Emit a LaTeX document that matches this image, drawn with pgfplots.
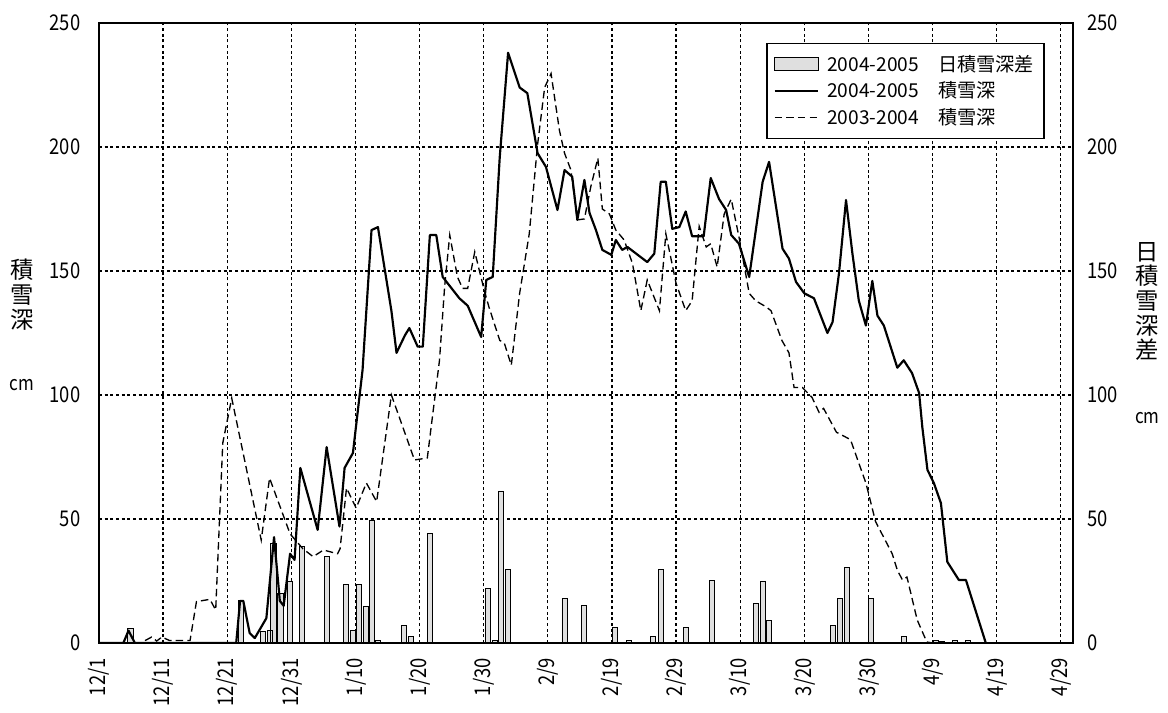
\documentclass[border=0pt]{standalone}
\usepackage{pgfplots}
\pgfplotsset{compat=1.18}
\usepackage{fontspec}
\setmainfont{Noto Sans CJK JP}
\newfontfamily\numfont[FakeStretch=0.85]{Noto Sans CJK JP}
\begin{document}
\begin{tikzpicture}
\useasboundingbox (-59.4pt,-42pt) rectangle (641.4pt,385.8pt);
\pgfplotsset{
  base/.style={
    at={(0pt,0pt)}, anchor=south west,
    scale only axis, width=584.4pt, height=372pt,
    xmin=0, xmax=151.9, ymin=0, ymax=250,
    xtick={0,10,...,150}, ytick={0,50,...,250},
    major tick length=0pt,
    /pgf/number format/assume math mode=true,
    tick label style={font=\numfont\fontsize{13}{14}\selectfont, inner sep=0pt},
    axis line style={line width=0.9pt},
  }
}
% bars on the right axis
\begin{axis}[base,
  yticklabel pos=right,
  yticklabel shift=8.4pt,
  grid=major,
  grid style={black, line width=0.75pt, dash pattern=on 1.8pt off 1.6pt},
  xticklabels={12/1,12/11,12/21,12/31,1/10,1/20,1/30,2/9,2/19,2/29,3/10,3/20,3/30,4/9,4/19,4/29},
  xticklabel style={rotate=90, anchor=east},
  xticklabel shift=9pt,
]
\addplot[ybar, bar width=0.8, fill=gray!25, draw=black, line width=0.55pt] coordinates {
(4.9,6) (22.2,17) (25.6,4.5) (26.6,5) (27.2,40) (28.3,20) (29.8,25) (31.6,39)
(35.5,35) (38.5,23.6) (39.6,5) (40.5,23.6) (41.6,14.6) (42.6,49.6) (43.5,1)
(47.5,7) (48.7,2.5) (51.6,44.3) (60.6,22) (61.7,1) (62.7,61.3) (63.8,29.7)
(72.6,18) (75.6,15) (80.5,6.3) (82.6,1.2) (86.4,2.8) (87.6,29.7) (91.6,6.3)
(95.6,25.4) (102.4,16) (103.6,25) (104.5,9) (114.5,7) (115.6,18) (116.6,30.5)
(120.4,18) (125.6,2.8) (130.5,1) (131.5,0.8) (133.5,1) (135.5,1)
};
\end{axis}
% lines on the left axis
\begin{axis}[base,
  yticklabel pos=left,
  yticklabel shift=11pt,
  xticklabels={},
  legend style={at={(0.971,0.968)}, anchor=north east, draw=black, line width=0.8pt,
    font=\fontsize{11.5}{13}\selectfont, row sep=0.8pt, inner xsep=4pt, inner ysep=5pt,
    cells={anchor=west}},
  legend image code/.code={\draw[#1] (0pt,0pt) -- (26pt,0pt);},
]
\addlegendimage{legend image code/.code={\draw[fill=gray!25, draw=black, line width=0.5pt] (0pt,-3.5pt) rectangle (26pt,4pt);}}
\addlegendentry{\hspace{3pt}2004-2005\hspace{1em}日積雪深差}
\addplot[black, line width=1.3pt, line join=round] coordinates {
(0,0) (3.8,0) (4.6,5) (5.6,0) (21.4,0) (22.0,17) (22.5,17) (23.5,4) (24.3,2)
(26.1,10) (27.3,42.7) (28.2,17) (28.8,15) (29.8,36) (30.5,33.5) (31.4,70.6)
(34.1,45.6) (35.5,79) (37.5,47) (38.3,70.6) (39.6,76.6) (41.1,110) (42.5,166.5)
(43.5,167.7) (45.6,134) (46.4,117) (47.7,124) (48.4,127) (49.7,119.5) (50.5,119.5)
(51.6,164.5) (52.6,164.5) (53.6,147.6) (56.2,139) (57.5,136) (59.6,123.4)
(60.4,146.4) (61.4,147.6) (62.5,196) (63.8,238) (65.6,224) (66.8,221.7)
(68.4,197.5) (69.7,192) (71.5,174.6) (72.6,190.7) (73.8,188) (74.6,170.6)
(75.7,186.7) (76.5,173.4) (77.5,166.5) (78.5,158.5) (79.9,156.5) (80.6,162.5)
(81.6,158.5) (82.4,159.7) (85.5,153.6) (86.6,157) (87.6,186) (88.4,186)
(89.4,167) (90.5,167.7) (91.5,174) (92.5,164) (94.3,164) (95.4,187.5)
(96.7,179) (97.8,174.6) (98.6,164.5) (99.8,161) (101.4,147.6) (103.5,186)
(104.5,194) (106.6,159) (107.6,155) (108.7,145.6) (110,141) (111.5,139)
(113.6,125) (114.4,129.4) (115.4,149) (116.5,178.6) (117.5,157) (118.5,138)
(119.6,128) (120.6,146) (121.4,132) (122.4,128) (124.5,111) (125.5,114)
(126.8,108.8) (127.9,100.8) (128.4,87) (129.2,69.8) (130.2,64.5) (131.3,56.4)
(132.3,32.7) (134.1,25.4) (135.2,25.4) (138.3,0)
};
\addlegendentry{\hspace{3pt}2004-2005\hspace{1em}積雪深}
\addplot[black, line width=0.8pt, dash pattern=on 4.5pt off 2.5pt] coordinates {
(0,0) (6.5,0) (8.2,2.4) (9,0.8) (9.8,2.4) (11,1) (14.2,1) (15.2,16.7) (17.3,17.6)
(18.2,13.3) (19.3,80.6) (20.7,98.7) (25.3,41.5) (26.6,66.5) (29.8,44) (31.8,38)
(33.4,34.8) (35,37.5) (37.2,36) (37.6,38) (38.6,62.5) (40.1,54.4) (41.7,64.5)
(43.3,57) (45.6,100) (49.2,73.8) (51.2,74.6) (53.1,114) (53.9,143.6) (54.7,164.5)
(55.9,147.6) (56.7,143) (57.5,143) (58.6,157.7) (60.1,142) (60.8,135.6)
(62.5,122) (63.2,121) (64.3,112) (65.6,141) (67.1,165) (68.4,201) (69.5,224)
(70.5,229.6) (71.8,206.8) (72.6,197.5) (73.6,190.7) (74.6,170.6) (75.7,171)
(76.7,184) (77.8,195.5) (78.5,175) (79.6,173) (80.6,166.5) (81.9,162.5)
(83.2,153) (84.5,134) (85.5,146.4) (87.4,134) (88.4,165) (90,145) (91.5,134)
(92.5,138) (93.6,168) (94.7,159.7) (95.4,161) (96.4,151.6) (97.5,173)
(98.6,179) (99.9,162.5) (101.4,141) (102.4,138) (104,135.6) (104.8,134)
(106.5,122) (107.6,117) (108.4,103) (109.7,103) (111.2,99) (112.3,93) (113,94.6)
(115,85) (117.2,82) (118.5,72.5) (119.6,64.5) (121.1,49) (123.7,36) (124.5,29.4)
(125.3,25.4) (126,26.6) (127.6,9.3) (129.1,0.4) (130,0)
};
\addlegendentry{\hspace{3pt}2003-2004\hspace{1em}積雪深}
\end{axis}
% axis titles
\node[align=center, font=\fontsize{14}{15}\selectfont] at (-46.2pt,208.8pt) {積\\雪\\深};
\node[font=\numfont\fontsize{12}{13}\selectfont] at (-46.2pt,154.8pt) {cm};
\node[align=center, font=\fontsize{14}{14.8}\selectfont] at (629pt,205pt) {日\\積\\雪\\深\\差};
\node[font=\numfont\fontsize{12}{13}\selectfont] at (629pt,135pt) {cm};
\end{tikzpicture}
\end{document}
